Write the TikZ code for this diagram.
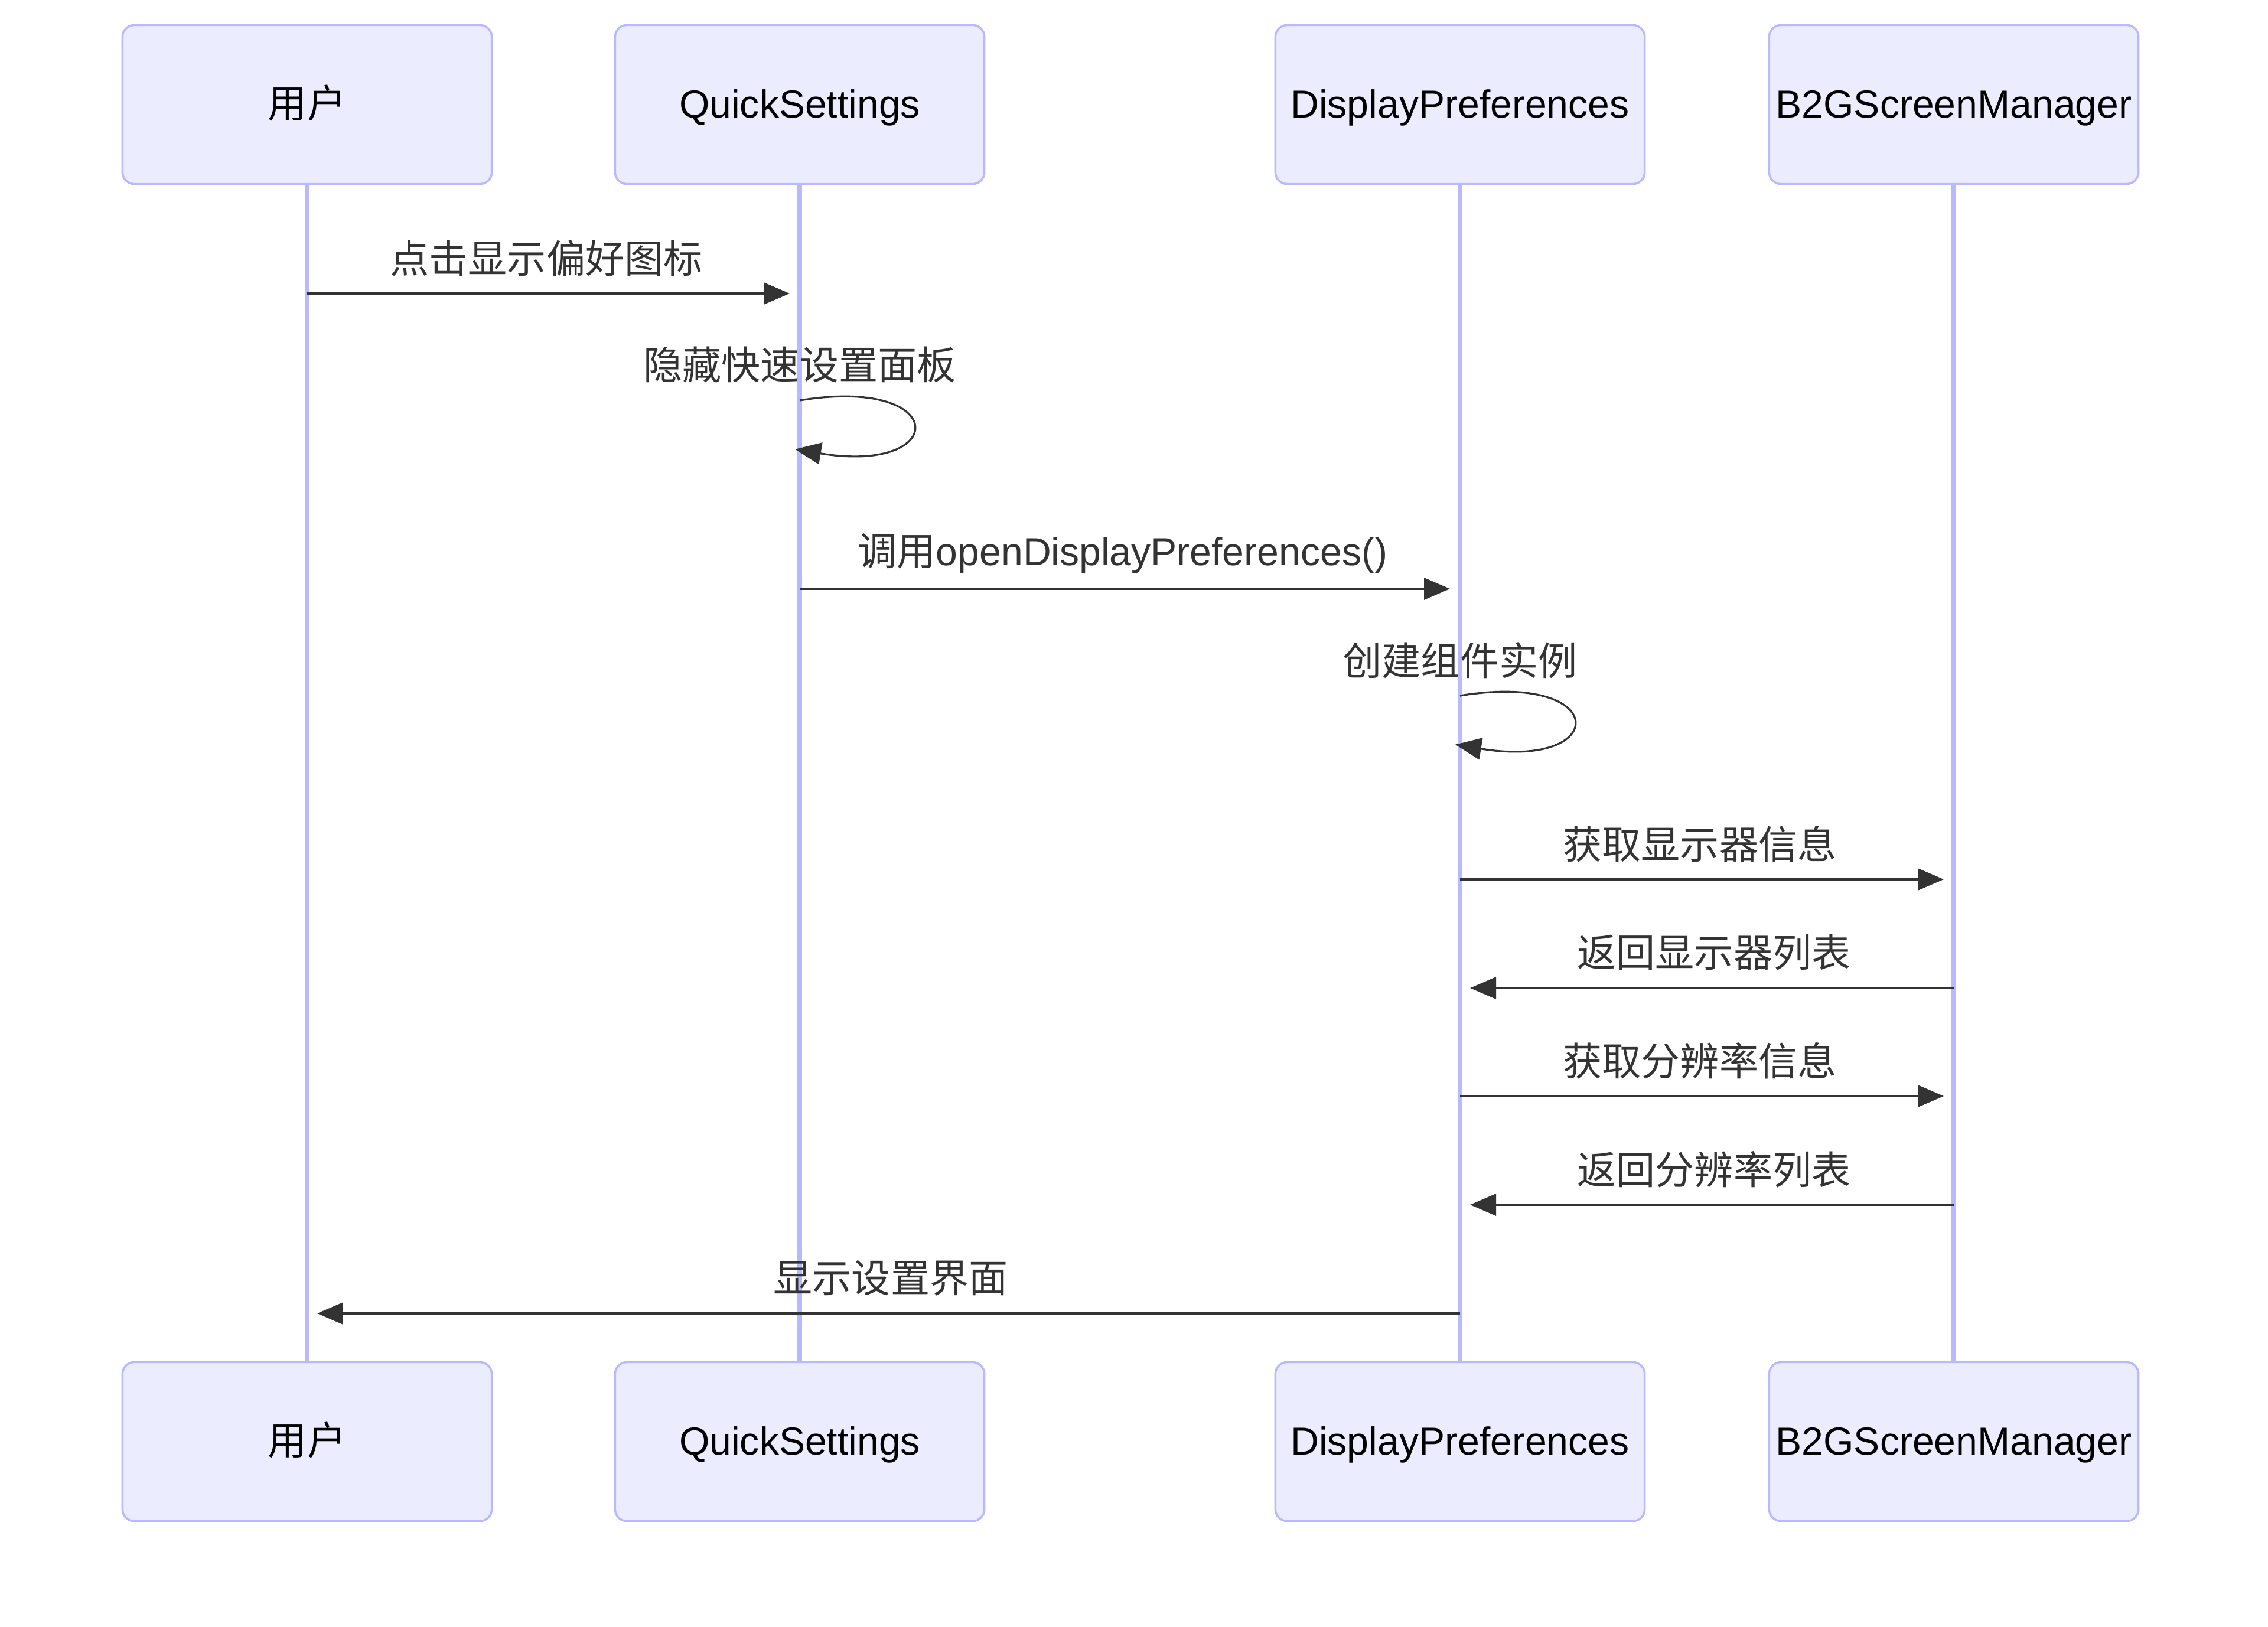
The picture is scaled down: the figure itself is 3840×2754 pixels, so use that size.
\documentclass[tikz,border=0pt]{standalone}
\usepackage{fontspec}
\setmainfont{Liberation Sans}
\newfontfamily\cjk{Noto Sans CJK SC}
\usepackage{xcolor}
\usetikzlibrary{arrows.meta}

\definecolor{actorfill}{HTML}{ECECFF}
\definecolor{actorline}{HTML}{B9B9FF}
\definecolor{msgcol}{HTML}{333333}

\begin{document}
\begin{tikzpicture}[x=0.01cm, y=-0.01cm,
    actor/.style={draw=actorline, line width=1pt, fill=actorfill, rounded corners=0.2cm,
        minimum width=6.25cm, minimum height=2.69cm, inner xsep=0.1cm,
        text height=13pt, text depth=0pt, font=\fontsize{18.8}{22}\selectfont},
    life/.style={draw=actorline, line width=2.2pt},
    msg/.style={draw=msgcol, line width=0.9pt, -{Triangle[length=12.5pt,width=10.5pt]},
        shorten >=0.17cm},
    lbl/.style={text=msgcol, font=\fontsize{18.8}{22}\selectfont\cjk, yshift=0.6cm},
    fwd/.style={lbl, midway, xshift=-0.12cm},
    back/.style={lbl, midway, xshift=0.12cm}]
    \useasboundingbox (0,0) rectangle (3840,2754);

    % participants
    \node[actor] (userT) at (520,177) {\cjk 用户};
    \node[actor] (qsT) at (1354,177) {QuickSettings};
    \node[actor] (dpT) at (2472,177) {DisplayPreferences};
    \node[actor] (smT) at (3308,177) {B2GScreenManager};
    \node[actor] (userB) at (520,2441) {\cjk 用户};
    \node[actor] (qsB) at (1354,2441) {QuickSettings};
    \node[actor] (dpB) at (2472,2441) {DisplayPreferences};
    \node[actor] (smB) at (3308,2441) {B2GScreenManager};

    % lifelines
    \foreach \p in {user,qs,dp,sm}
        \draw[life] (\p T) -- (\p B);

    % message rows
    \coordinate (m1) at (0,497);
    \coordinate (m2) at (0,678);
    \coordinate (m2e) at (0,762);
    \coordinate (m3) at (0,997);
    \coordinate (m4) at (0,1178);
    \coordinate (m4e) at (0,1262);
    \coordinate (m5) at (0,1489);
    \coordinate (m6) at (0,1673);
    \coordinate (m7) at (0,1856);
    \coordinate (m8) at (0,2040);
    \coordinate (m9) at (0,2224);

    \draw[msg] (userT |- m1) -- node[fwd] {点击显示偏好图标} (qsT |- m1);
    \draw[msg, shorten >=-0.08cm] (qsT |- m2) node[lbl] {隐藏快速设置面板}
        .. controls +(255,-42) and +(255,42) .. (qsT |- m2e);
    \draw[msg] (qsT |- m3) -- node[fwd] {调用\rmfamily openDisplayPreferences()} (dpT |- m3);
    \draw[msg, shorten >=-0.08cm] (dpT |- m4) node[lbl] {创建组件实例}
        .. controls +(255,-42) and +(255,42) .. (dpT |- m4e);
    \draw[msg] (dpT |- m5) -- node[fwd] {获取显示器信息} (smT |- m5);
    \draw[msg] (smT |- m6) -- node[back] {返回显示器列表} (dpT |- m6);
    \draw[msg] (dpT |- m7) -- node[fwd] {获取分辨率信息} (smT |- m7);
    \draw[msg] (smT |- m8) -- node[back] {返回分辨率列表} (dpT |- m8);
    \draw[msg] (dpT |- m9) -- node[back] {显示设置界面} (userT |- m9);
\end{tikzpicture}
\end{document}
